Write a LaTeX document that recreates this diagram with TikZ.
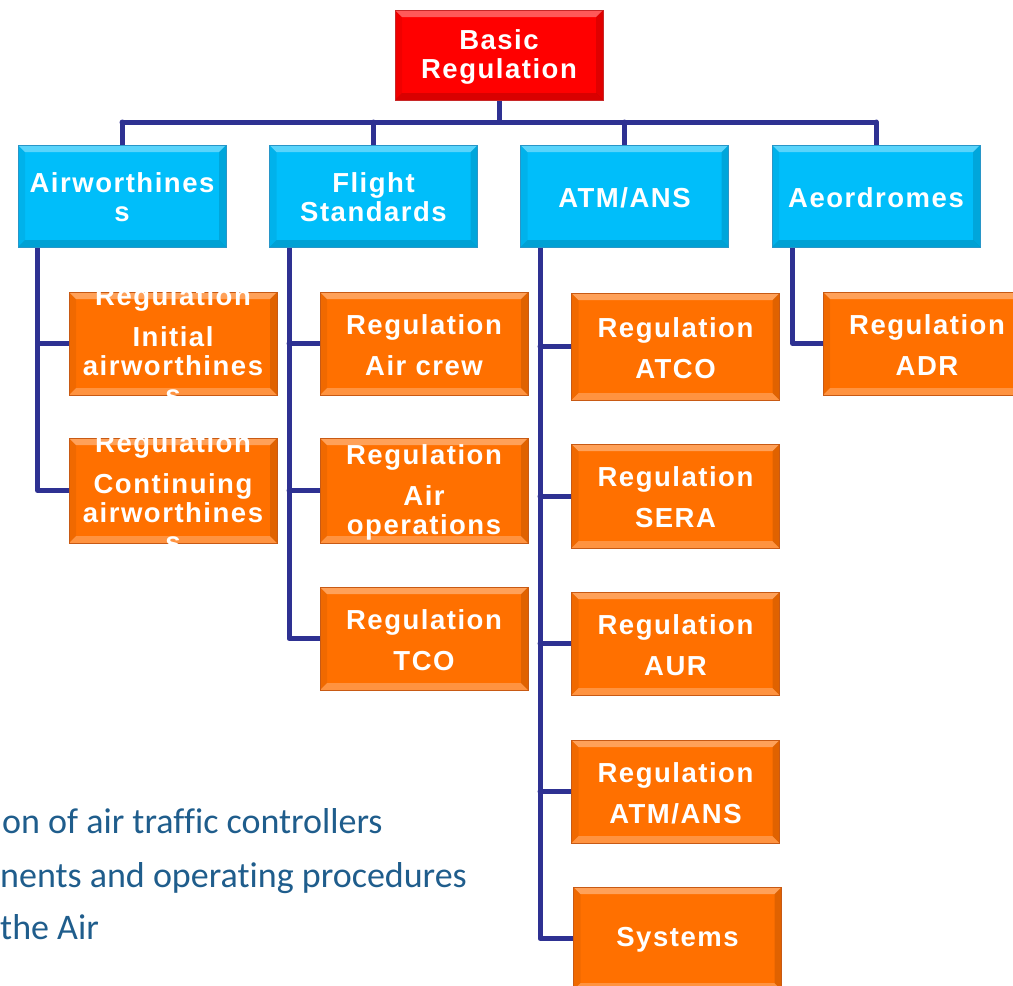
\documentclass[tikz,border=0pt]{standalone}
\usepackage{fontspec}
\usetikzlibrary{backgrounds}
\setmainfont{Liberation Sans}
\newfontfamily\boxfont{Liberation Sans}[LetterSpace=5.5]
\newfontfamily\notefont{Carlito}[Ligatures={NoCommon,NoRequired,NoContextual}]
\definecolor{navy}{RGB}{46,49,146}
\definecolor{rbox}{RGB}{255,0,0}
\definecolor{rboxb}{RGB}{200,40,40}
\definecolor{bbox}{RGB}{0,190,250}
\definecolor{bboxb}{RGB}{40,150,200}
\definecolor{obox}{RGB}{255,112,0}
\definecolor{oboxb}{RGB}{200,90,20}
\definecolor{notec}{RGB}{31,93,140}
\tikzset{
  bevel/.style={path picture={
    \coordinate (pnw) at (path picture bounding box.north west);
    \coordinate (pne) at (path picture bounding box.north east);
    \coordinate (psw) at (path picture bounding box.south west);
    \coordinate (pse) at (path picture bounding box.south east);
    \fill[white,opacity=0.35] (pnw) -- (pne) -- ([xshift=-7pt,yshift=-7pt]pne) -- ([xshift=7pt,yshift=-7pt]pnw) -- cycle;
    \fill[#1] (psw) -- (pse) -- ([xshift=-7pt,yshift=7pt]pse) -- ([xshift=7pt,yshift=7pt]psw) -- cycle;
    \fill[black,opacity=0.06] (pnw) -- ([xshift=7pt,yshift=-7pt]pnw) -- ([xshift=7pt,yshift=7pt]psw) -- (psw) -- cycle;
    \fill[black,opacity=0.12] (pne) -- ([xshift=-7pt,yshift=-7pt]pne) -- ([xshift=-7pt,yshift=7pt]pse) -- (pse) -- cycle;
  }},
  redbox/.style={draw=rboxb, line width=1pt, fill=rbox, minimum width=208pt, minimum height=90pt, inner sep=0pt, bevel={black,opacity=0.15}},
  bluebox/.style={draw=bboxb, line width=1pt, fill=bbox, minimum width=208pt, minimum height=102pt, inner sep=0pt, bevel={black,opacity=0.15}},
  orgbox/.style={draw=oboxb, line width=1pt, fill=obox, minimum width=208pt, inner sep=0pt, bevel={white,opacity=0.25}},
  txt/.style={text=white, font=\boxfont\bfseries\fontsize{27.5}{29}\selectfont, align=center, inner sep=0pt, yshift=-1.5pt},
  conn/.style={draw=navy, line width=5pt, line cap=round, line join=round},
  note/.style={text=notec, font=\notefont\fontsize{36}{40}\selectfont, anchor=base west, inner sep=0pt}
}
\newcommand\mkorg[5]{%
  \node[orgbox, minimum height=#4pt] (#1) at (#2,#3) {};
  \node[txt] (#1t) at (#1.center) {#5};}
\begin{document}
\begin{tikzpicture}[x=1pt,y=-1pt]
\useasboundingbox (0,0) rectangle (1013,986);
\clip (0,0) rectangle (1013,986);
\coordinate (bus) at (0,122);
% top
\node[redbox] (basic) at (499,55) {};
\node[txt] (basict) at (basic.center) {Basic\\Regulation};
% blue boxes
\node[bluebox] (aw) at (122,196) {};
\node[txt] (awt) at (aw.center) {Airworthines\\s};
\node[bluebox] (fs) at (373.5,196) {};
\node[txt] (fst) at (fs.center) {Flight\\Standards};
\node[bluebox] (atm) at (624.5,196) {};
\node[txt] (atmt) at (atm.center) {ATM/ANS};
\node[bluebox] (adm) at (876,196) {};
\node[txt] (admt) at (adm.center) {Aeordromes};
% orange boxes
\mkorg{init}{173}{343.5}{103}{Regulation\\[12pt]Initial\\airworthines\\s}
\mkorg{cont}{173}{490.5}{105}{Regulation\\[12pt]Continuing\\airworthines\\s}
\mkorg{crew}{424}{343.5}{103}{Regulation\\[12pt]Air crew}
\mkorg{ops}{424}{490.5}{105}{Regulation\\[12pt]Air\\operations}
\mkorg{tco}{424}{638.5}{103}{Regulation\\[12pt]TCO}
\mkorg{atco}{675.5}{346.5}{107}{Regulation\\[12pt]ATCO}
\mkorg{sera}{675.5}{496}{104}{Regulation\\[12pt]SERA}
\mkorg{aur}{675.5}{643.5}{103}{Regulation\\[12pt]AUR}
\mkorg{atmans}{675.5}{791.5}{103}{Regulation\\[12pt]ATM/ANS}
\mkorg{sys}{677.5}{938.5}{103}{Systems}
\mkorg{adr}{927}{343.5}{103}{Regulation\\[12pt]ADR}
\begin{scope}[on background layer]
\draw[conn] (basic.south) -- (basic.south |- bus);
\draw[conn] (aw.north |- bus) -- (adm.north |- bus);
\draw[conn] (aw.north) -- (aw.north |- bus);
\draw[conn] (fs.north) -- (fs.north |- bus);
\draw[conn] (atm.north) -- (atm.north |- bus);
\draw[conn] (adm.north) -- (adm.north |- bus);
\coordinate (awk) at ([xshift=20pt]aw.south west);
\coordinate (fsk) at ([xshift=20pt]fs.south west);
\coordinate (atmk) at ([xshift=20pt]atm.south west);
\coordinate (admk) at ([xshift=21pt]adm.south west);
\draw[conn] (awk) |- (cont.west);
\draw[conn] (init.west) -- (init.west -| awk);
\draw[conn] (fsk) |- (tco.west);
\draw[conn] (crew.west) -- (crew.west -| fsk);
\draw[conn] (ops.west) -- (ops.west -| fsk);
\draw[conn] (atmk) |- (sys.west);
\draw[conn] (atco.west) -- (atco.west -| atmk);
\draw[conn] (sera.west) -- (sera.west -| atmk);
\draw[conn] (aur.west) -- (aur.west -| atmk);
\draw[conn] (atmans.west) -- (atmans.west -| atmk);
\draw[conn] (admk) |- (adr.west);
\end{scope}
% notes
\node[note] (n1) at (2,833) {on of air traffic controllers};
\node[note] (n2) at (0,887) {nents and operating procedures};
\node[note] (n3) at (0,939) {the Air};
\end{tikzpicture}
\end{document}
